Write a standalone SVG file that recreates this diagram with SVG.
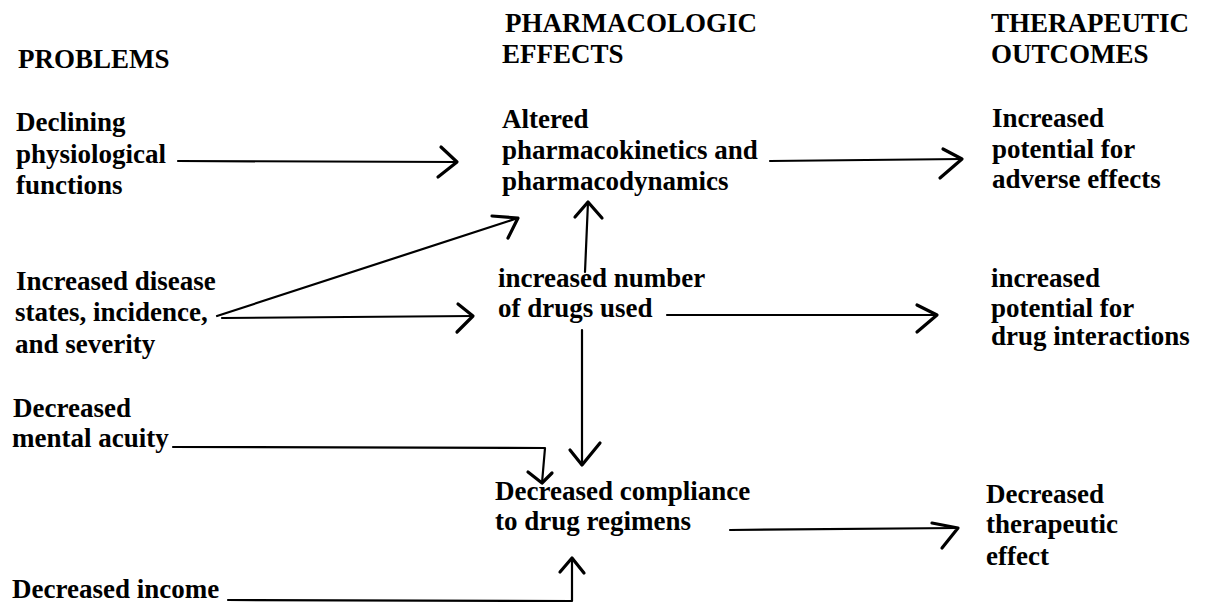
<svg xmlns="http://www.w3.org/2000/svg" width="1209" height="609" viewBox="0 0 1209 609">
<style>
text{font-family:"Liberation Serif","Times New Roman",serif;font-weight:bold;font-size:27px;fill:#000}
.ln{fill:none;stroke:#000;stroke-width:2.2;stroke-linecap:round;stroke-linejoin:round}
.hd{fill:none;stroke:#000;stroke-width:3.2;stroke-linecap:round;stroke-linejoin:round}
</style>
<rect width="1209" height="609" fill="#fff"/>
<g id="headers">
<text x="18" y="68">PROBLEMS</text>
<text x="505" y="32">PHARMACOLOGIC</text>
<text x="502" y="63">EFFECTS</text>
<text x="991" y="32">THERAPEUTIC</text>
<text x="991" y="63">OUTCOMES</text>
</g>
<g id="n-declining">
<text x="16" y="131">Declining</text>
<text x="16" y="163">physiological</text>
<text x="16" y="194">functions</text>
</g>
<g id="n-disease">
<text x="16" y="290">Increased disease</text>
<text x="15" y="321">states, incidence,</text>
<text x="15" y="353">and severity</text>
</g>
<g id="n-mental">
<text x="13" y="417">Decreased</text>
<text x="12" y="447">mental acuity</text>
</g>
<g id="n-income">
<text x="12" y="598">Decreased income</text>
</g>
<g id="n-altered">
<text x="502" y="128">Altered</text>
<text x="502" y="159">pharmacokinetics and</text>
<text x="502" y="190">pharmacodynamics</text>
</g>
<g id="n-drugs">
<text x="498" y="287">increased number</text>
<text x="498" y="317">of drugs used</text>
</g>
<g id="n-compliance">
<text x="495" y="500">Decreased compliance</text>
<text x="495" y="530">to drug regimens</text>
</g>
<g id="n-adverse">
<text x="992" y="127">Increased</text>
<text x="992" y="158">potential for</text>
<text x="992" y="188">adverse effects</text>
</g>
<g id="n-interactions">
<text x="991" y="287">increased</text>
<text x="991" y="317">potential for</text>
<text x="991" y="345">drug interactions</text>
</g>
<g id="n-therapeutic">
<text x="986" y="503">Decreased</text>
<text x="986" y="533">therapeutic</text>
<text x="986" y="565">effect</text>
</g>
<g id="connectors">
<path class="ln" d="M178 161 L457 162"/>
<path class="hd" d="M441 147 L457 162 L438 177"/>
<path class="ln" d="M770 161 L962 159"/>
<path class="hd" d="M943 149 L962 159 L940 178"/>
<path class="ln" d="M217 316 L518 218"/>
<path class="hd" d="M492 216 L518 218 L508 238"/>
<path class="ln" d="M222 318 L473 316"/>
<path class="hd" d="M458 304 L473 316 L457 332"/>
<path class="ln" d="M585 272 L588 202"/>
<path class="hd" d="M575 217 L588 202 L602 218"/>
<path class="ln" d="M667 315 L937 315"/>
<path class="hd" d="M917 305 L937 315 L917 332"/>
<path class="ln" d="M582 330 L582 465"/>
<path class="hd" d="M570 450 L582 465 L600 443"/>
<path class="ln" d="M173 447 L545 448 L542 483"/>
<path class="hd" d="M528 472 L542 483 L552 473"/>
<path class="ln" d="M228 600 L572 601 L572 558"/>
<path class="hd" d="M560 572 L572 558 L584 573"/>
<path class="ln" d="M730 530 L958 528"/>
<path class="hd" d="M932 523 L958 528 L942 548"/>
</g>
</svg>
